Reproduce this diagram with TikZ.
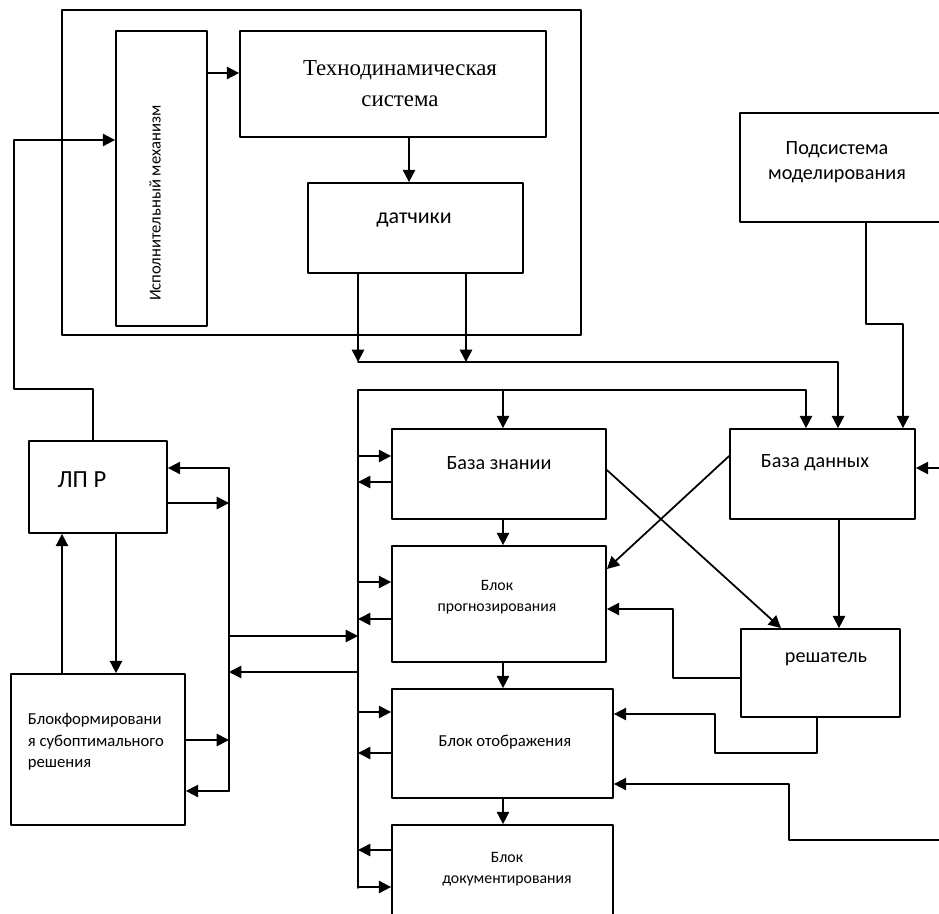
\documentclass[tikz,border=0pt]{standalone}
\usepackage{fontspec}
\setmainfont{Carlito}
\newfontfamily\serifru{Liberation Serif}
\usetikzlibrary{arrows.meta,fit}

\begin{document}
\begin{tikzpicture}[line cap=round,line join=round,>={Triangle[length=7pt,width=7pt]},x=0.02cm,y=-0.02cm,line width=1pt,
  blk/.style={draw,inner sep=0pt,fit={#1}},
  lbl/.style={font=\fontsize{11.5}{14}\selectfont,align=center,inner sep=0pt},
  sml/.style={font=\fontsize{9.5}{12}\selectfont,align=center,inner sep=0pt}]
\useasboundingbox (0,0) rectangle (939,913);
\clip (0,0) rectangle (939,913);
% object with sensors
\node[blk={(62,10) (581,335)}] (obj) {};
\node[blk={(116,31) (207,326)}] (isp) {};
\node[blk={(240,31) (546,137)}] (tds) {};
\node[blk={(308,183) (523,273)}] (dat) {};
\node[blk={(740,113) (950,222)}] (pms) {};
\node[sml,rotate=90] (ispt) at (155,203) {Исполнительный механизм};
\node[align=center,inner sep=0pt,font=\serifru\fontsize{13}{17.6}\selectfont] (tdst) at (400,84) {Технодинамическая\\система};
\node[lbl,font=\fontsize{12.5}{14}\selectfont] (datt) at (414,220) {датчики};
\node[lbl,font=\fontsize{11.5}{14.2}\selectfont] (pmst) at (837,162) {Подсистема\\моделирования};
% decision maker
\node[blk={(29,441) (167,533)}] (lpr) {};
\node[lbl,font=\fontsize{14}{16}\selectfont] (lprt) at (82,480) {ЛП Р};
\node[blk={(11,674) (185,825)}] (bfr) {};
\node[sml,align=left,anchor=west,font=\fontsize{9.5}{12.2}\selectfont] (bfrt) at (27,742) {Блокформировани\\я субоптимального\\решения};
% blocks on the bus
\node[blk={(392,429) (606,519)}] (bzn) {};
\node[blk={(730,429) (915,519)}] (bdn) {};
\node[blk={(392,546) (606,662)}] (bpr) {};
\node[blk={(741,629) (900,717)}] (rsh) {};
\node[blk={(392,689) (613,798)}] (bot) {};
\node[blk={(392,825) (613,925)}] (bdk) {};
\node[lbl] (bznt) at (499,463) {База знании};
\node[lbl] (bdnt) at (815,463) {База данных};
\node[sml,font=\fontsize{9}{12}\selectfont] (bprt) at (497,597) {Блок\\прогнозирования};
\node[lbl] (rsht) at (826,659) {решатель};
\node[sml] (bott) at (505,742) {Блок отображения};
\node[sml,font=\fontsize{9}{11.7}\selectfont] (bdkt) at (507,869) {Блок\\документирования};
\coordinate (s1) at (358,362);
\coordinate (bt) at (358,390);
\coordinate (bb) at (358,888);
\coordinate (lt) at (229,468);
\coordinate (lb) at (229,791);
\coordinate (pin) at (950,468);
\coordinate (oin) at (950,840);
% upper arrows
\draw[->] (isp.east |- 0,73) -- (tds.west |- 0,73);
\draw[->] (tds.south -| 409,0) -- (dat.north -| 409,0);
\draw[->] (dat.south -| s1) -- (s1);
\draw[->] (dat.south -| 466,0) -- (466,362);
\draw[->] (s1) -| (bdn.north -| 838,0);
\draw[->] (bt) -| (bdn.north -| 806,0);
\draw (bt) -- (bb);
\draw[->] (bt -| 503,0) -- (bzn.north -| 503,0);
\draw[->] (pms.south -| 866,0) -- (866,324) -| (bdn.north -| 903,0);
\draw[->] (pin) -- (bdn.east |- pin);
% right part
\draw[->] (bdn.south -| 839,0) -- (rsh.north -| 839,0);
\draw[->] (bdn.west |- 0,456) -- (bpr.east |- 0,569);
\draw[->] (bzn.east |- 0,470) -- (rsh.north -| 781,0);
\draw[->] (rsh.west |- 0,678) -| (673,609) -- (bpr.east |- 0,609);
\draw[->] (rsh.south -| 817,0) |- (715,753) |- (bot.east |- 0,714);
\draw[->] (oin) -| (789,784) -- (bot.east |- 0,784);
\draw[->] (bzn.south -| 503,0) -- (bpr.north -| 503,0);
\draw[->] (bpr.south -| 503,0) -- (bot.north -| 503,0);
\draw[->] (bot.south -| 503,0) -- (bdk.north -| 503,0);
% bus
\foreach \n/\a/\b in {bzn/456/482,bpr/582/619,bot/712/753}{
  \draw[->] (bt |- 0,\a) -- (\n.west |- 0,\a);
  \draw[->] (\n.west |- 0,\b) -- (bt |- 0,\b);
}
\draw[->] (bdk.west |- 0,850) -- (bt |- 0,850);
\draw[->] (bt |- 0,887) -- (bdk.west |- 0,887);
% left part
\draw (lt) -- (lb);
\draw[->] (lt) -- (lpr.east |- lt);
\draw[->] (lpr.east |- 0,503) -- (lt |- 0,503);
\draw[->] (bfr.east |- 0,740) -- (lt |- 0,740);
\draw[->] (lb) -- (bfr.east |- lb);
\draw[->] (lt |- 0,636) -- (bt |- 0,636);
\draw[->] (bt |- 0,672) -- (lt |- 0,672);
\draw[->] (bfr.north -| 62,0) -- (lpr.south -| 62,0);
\draw[->] (lpr.south -| 116,0) -- (bfr.north -| 116,0);
\draw[->] (lpr.north -| 93,0) -- (93,389) -- (14,389) |- (isp.west |- 0,140);
\end{tikzpicture}
\end{document}
